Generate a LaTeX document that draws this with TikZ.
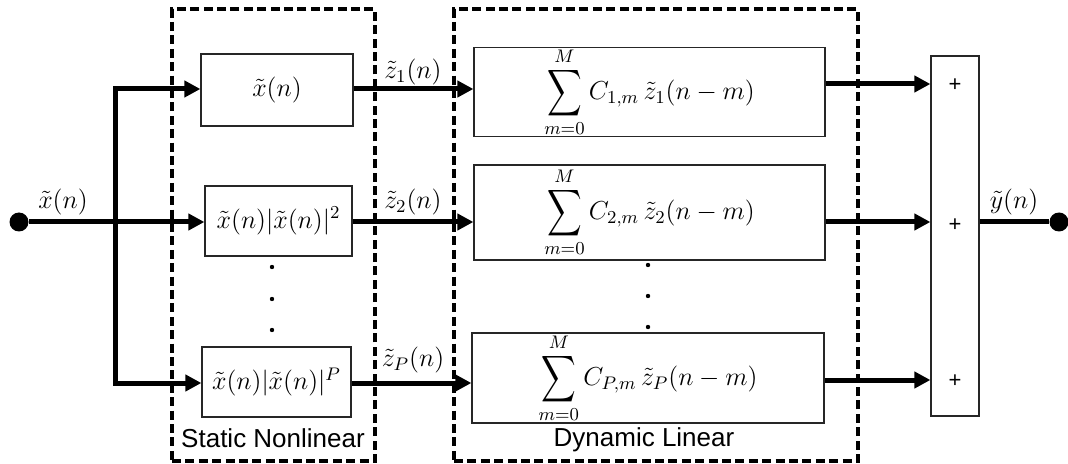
\RequirePackage{fix-cm}
\documentclass[tikz,border=0pt]{standalone}
\usepackage{fontspec}
\usepackage{amsmath}
\usepackage{graphicx}
\newfontfamily\arialfont{Liberation Sans}
\usetikzlibrary{arrows.meta}
\newcommand{\bigsum}{\mathop{\vcenter{\hbox{\scalebox{1}[1.35]{$\displaystyle\sum$}}}}\limits}
\begin{document}
\begin{tikzpicture}[x=0.5pt,y=-0.5pt,
  box/.style={draw=black!85, line width=0.6pt, inner sep=0pt, font=\fontsize{13}{15}\selectfont},
  group/.style={draw, line width=1.6pt, dash pattern=on 4.5pt off 2.2pt, inner sep=0pt},
  wire/.style={line width=2.5pt, line join=miter},
  arr/.style={wire, -{Triangle[length=8pt,width=8pt]}},
  lab/.style={font=\fontsize{13}{15}\selectfont, inner sep=0pt},
  grp/.style={font=\arialfont\fontsize{13}{15}\selectfont, inner sep=0pt},
  terminal/.style={circle, fill, inner sep=0pt, minimum size=9.5pt},
  plus/.style={font=\arialfont\fontsize{11}{12}\selectfont, inner sep=0pt},
]
\useasboundingbox (0,0) rectangle (1068,464);

% dashed groups
\node[group, minimum width=101.5pt, minimum height=226pt] (gs) at (273.5,235) {};
\node[group, minimum width=202pt, minimum height=226pt] (gd) at (656,235) {};
\node[grp] (gslab) at (273,438) {Static Nonlinear};
\node[grp] (gdlab) at (644,440) {Dynamic Linear};

% static boxes
\node[box, minimum width=76pt, minimum height=36pt] (s1) at (277,90) {$\tilde{x}(n)$};
\node[box, minimum width=73.5pt, minimum height=35pt] (s2) at (278.5,221) {$\tilde{x}(n)|\tilde{x}(n)|^2$};
\node[box, minimum width=74.5pt, minimum height=35pt] (sP) at (276.5,382) {$\tilde{x}(n)|\tilde{x}(n)|^P$};

% dynamic boxes
\node[box, minimum width=175.5pt, minimum height=44pt] (d1) at (649.5,92)
  {$\displaystyle\bigsum_{m=0}^{M} C_{1,m}\,\tilde{z}_1(n-m)$};
\node[box, minimum width=175.5pt, minimum height=47.5pt] (d2) at (649.5,212.5)
  {$\displaystyle\bigsum_{m=0}^{M} C_{2,m}\,\tilde{z}_2(n-m)$};
\node[box, minimum width=176pt, minimum height=45pt] (dP) at (648,378)
  {$\displaystyle\bigsum_{m=0}^{M} C_{P,m}\,\tilde{z}_P(n-m)$};

% summing box
\node[box, minimum width=24pt, minimum height=180pt] (sum) at (955,236) {};
\node[plus] (p1) at (955,85) {+};
\node[plus] (p2) at (955,225) {+};
\node[plus] (p3) at (955,381) {+};

% terminals
\node[terminal] (in) at (19,222) {};
\node[terminal] (out) at (1059,222) {};

% level coordinates
\coordinate (b1) at (115,89);
\coordinate (bP) at (115,383);
\coordinate (r1) at (0,89);
\coordinate (r2) at (0,222);
\coordinate (rP) at (0,383);
\coordinate (o1) at (0,84);
\coordinate (o2) at (0,222);
\coordinate (oP) at (0,380);

% input connectors
\draw[arr] (in) -- (s2.west |- in);
\draw[arr] (bP) -- (b1) -- (s1.west |- b1);
\draw[arr] (b1) -- (bP) -- (sP.west |- bP);

% static -> dynamic
\draw[arr] (s1.east |- r1) -- (d1.west |- r1);
\draw[arr] (s2.east |- r2) -- (d2.west |- r2);
\draw[arr] (sP.east |- rP) -- (dP.west |- rP);

% dynamic -> sum
\draw[arr] (d1.east |- o1) -- (sum.west |- o1);
\draw[arr] (d2.east |- o2) -- (sum.west |- o2);
\draw[arr] (dP.east |- oP) -- (sum.west |- oP);

% output
\draw[wire] (sum.east |- out) -- (out);

% labels
\node[lab] (lx) at (63,202) {$\tilde{x}(n)$};
\node[lab] (lz1) at (413,72) {$\tilde{z}_1(n)$};
\node[lab] (lz2) at (413,202) {$\tilde{z}_2(n)$};
\node[lab] (lzP) at (413,360) {$\tilde{z}_P(n)$};
\node[lab] (ly) at (1014,202) {$\tilde{y}(n)$};

% ellipsis dots
\foreach \yy in {267,299,330} \fill (272,\yy) circle[radius=1.1pt];
\foreach \yy in {265,296,327} \fill (648,\yy) circle[radius=1.1pt];
\end{tikzpicture}
\end{document}
